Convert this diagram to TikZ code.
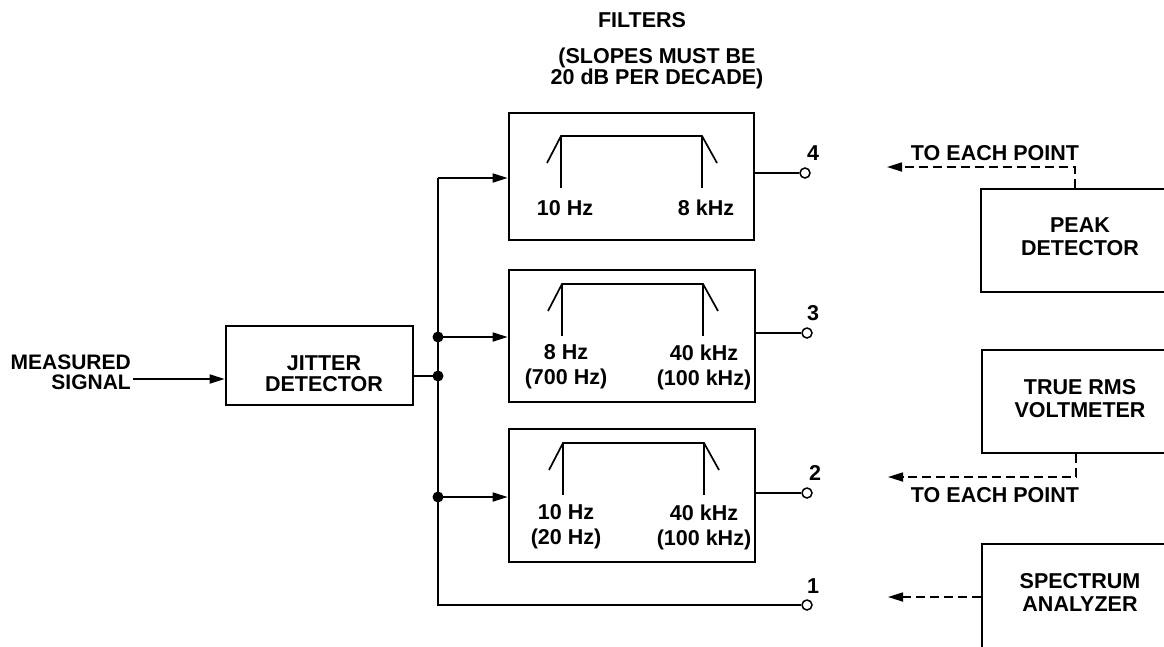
\documentclass[tikz,border=0pt]{standalone}
\usepackage{fontspec}
\setmainfont{Liberation Sans}
\usetikzlibrary{arrows.meta}
\begin{document}
\begin{tikzpicture}[x=1pt,y=-1pt,
  box/.style={draw, line width=2.6pt, rectangle, inner sep=0},
  wire/.style={line width=1.7pt},
  arr/.style={wire, -{Triangle[length=15pt,width=9pt]}},
  darr/.style={wire, dash pattern=on 9pt off 5pt, -{Triangle[length=15pt,width=9pt]}},
  lbl/.style={font=\bfseries\fontsize{21.5}{23}\selectfont, inner sep=0, align=center},
  dot/.style={circle, fill, inner sep=0, minimum size=11pt},
  term/.style={circle, draw, line width=1.5pt, fill=white, inner sep=0, minimum size=10pt},
  pics/fcurve/.style={code={
    \draw[line width=1.7pt] (-14,27) -- (0,0) -- (141,0) -- (156,27);
    \draw[line width=1.7pt] (0,0) -- (0,52);
    \draw[line width=1.7pt] (141,0) -- (141,52);}}]
\useasboundingbox (0,0) rectangle (1164,646);
\clip (0,0) rectangle (1164,646);

% top text
\node[lbl] (filt) at (642,20) {FILTERS};
\node[lbl, font=\bfseries\fontsize{21.5}{20}\selectfont] (slopes) at (657,68) {(SLOPES MUST BE\\20 dB PER DECADE)};

% jitter detector
\node[box, minimum width=187pt, minimum height=79pt] (jd) at (319.5,365.5) {};
\node[lbl, font=\bfseries\fontsize{21.5}{21}\selectfont] (jdt) at (324,374) {JITTER\\DETECTOR};
\node[lbl, anchor=east, font=\bfseries\fontsize{21}{21}\selectfont] (ms1) at (131,362) {MEASURED};
\node[lbl, anchor=east, font=\bfseries\fontsize{21}{21}\selectfont] (ms2) at (131,382) {SIGNAL};
\coordinate (ms) at (133,379);
\draw[arr] (ms) -- (ms -| jd.west);

% filters
\node[box, minimum width=245pt, minimum height=127pt] (f4) at (631.5,176.5) {};
\node[box, minimum width=246pt, minimum height=132pt] (f3) at (632,336) {};
\node[box, minimum width=246pt, minimum height=133pt] (f2) at (632,495.5) {};
\pic at (561,136) {fcurve};
\pic at (562,284) {fcurve};
\pic at (563,443) {fcurve};
\node[lbl] (f4a) at (565,208) {10 Hz};
\node[lbl] (f4b) at (706,208) {8 kHz};
\node[lbl, font=\bfseries\fontsize{21.5}{25}\selectfont] (f3a) at (566,367) {8 Hz\\(700 Hz)};
\node[lbl, font=\bfseries\fontsize{21.5}{25}\selectfont] (f3b) at (704,367) {40 kHz\\(100 kHz)};
\node[lbl, font=\bfseries\fontsize{21.5}{25}\selectfont] (f2a) at (566,527) {10 Hz\\(20 Hz)};
\node[lbl, font=\bfseries\fontsize{21.5}{25}\selectfont] (f2b) at (704,527) {40 kHz\\(100 kHz)};

% bus
\coordinate (b4) at (438,178);
\coordinate (b3) at (438,337);
\coordinate (bj) at (438,376);
\coordinate (b2) at (438,497);
\coordinate (b1) at (438,605);
\node[term] (t4) at (805,173) {};
\node[term] (t3) at (807,333) {};
\node[term] (t2) at (807,493) {};
\node[term] (t1) at (807,605) {};
\draw[wire] (b4) -- (b1) -- (t1.west);
\draw[wire] (jd.east |- bj) -- (bj);
\draw[arr] (b4) -- (b4 -| f4.west);
\draw[arr] (b3) -- (b3 -| f3.west);
\draw[arr] (b2) -- (b2 -| f2.west);
\node[dot] (d3) at (b3) {};
\node[dot] (dj) at (bj) {};
\node[dot] (d2) at (b2) {};
\draw[wire] (f4.east |- t4) -- (t4.west);
\draw[wire] (f3.east |- t3) -- (t3.west);
\draw[wire] (f2.east |- t2) -- (t2.west);
\node[lbl] (n4) at (813,153) {4};
\node[lbl] (n3) at (813,313) {3};
\node[lbl] (n2) at (815,473) {2};
\node[lbl] (n1) at (813,586) {1};

% instruments
\node[box, minimum width=198pt, minimum height=103pt] (pd) at (1080,240.5) {};
\node[lbl] (pdt) at (1080,237) {PEAK\\DETECTOR};
\node[box, minimum width=197pt, minimum height=103pt] (rms) at (1080.5,401.5) {};
\node[lbl] (rmst) at (1080,399) {TRUE RMS\\VOLTMETER};
\node[box, minimum width=197pt, minimum height=106pt] (sa) at (1080.5,597) {};
\node[lbl] (sat) at (1080,592) {SPECTRUM\\ANALYZER};

\coordinate (pdc) at (1075,167);
\coordinate (pdend) at (887,167);
\draw[darr] (pd.north -| pdc) -- (pdc) -- (pdend);
\node[lbl] (tep1) at (995,153) {TO EACH POINT};
\coordinate (rmc) at (1076,477);
\coordinate (rmend) at (888,477);
\draw[darr] (rms.south -| rmc) -- (rmc) -- (rmend);
\node[lbl] (tep2) at (995,495) {TO EACH POINT};
\coordinate (saend) at (888,597);
\draw[darr] (sa.west |- saend) -- (saend);
\end{tikzpicture}
\end{document}
